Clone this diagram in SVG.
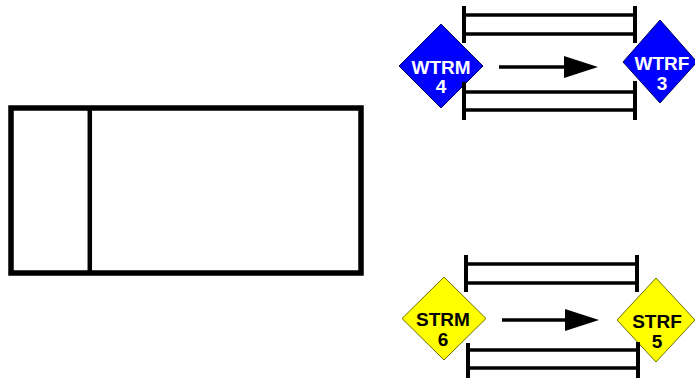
<svg xmlns="http://www.w3.org/2000/svg" width="695" height="381" viewBox="0 0 695 381">
<style>
.box{fill:none;stroke:#000;stroke-width:5.5}
.bar{fill:none;stroke:#000;stroke-width:4;stroke-linecap:butt}
.rail{fill:none;stroke:#000;stroke-width:3.5}
.blue{fill:#0000ff;stroke:#000060;stroke-width:1}
.yel{fill:#ffff00;stroke:#6b6b00;stroke-width:1}
.lbl{font-family:"Liberation Sans",Arial,sans-serif;font-weight:bold;font-size:19px;text-anchor:middle}
.w{fill:#fff}
.k{fill:#000}
.conn{stroke:#000;stroke-width:3.5;fill:none}
</style>
<defs>
<marker id="ah" markerUnits="userSpaceOnUse" markerWidth="34" markerHeight="24" refX="0" refY="11" orient="auto">
<path d="M0,0 L34,11 L0,22 Z" fill="#000"/>
</marker>
</defs>
<rect width="695" height="381" fill="#fff"/>

<g id="panel">
<rect class="box" x="11" y="108" width="350" height="165"/>
<line class="box" x1="89.8" y1="108" x2="89.8" y2="273" style="stroke-width:4.5"/>
</g>

<g id="WTRM">
<polygon class="blue" points="441,24 483,66 441,108 399,66"/>
<text class="lbl w" x="441" y="74">WTRM</text>
<text class="lbl w" x="441" y="93">4</text>
</g>
<g id="WTRF">
<polygon class="blue" points="660,20 697,62 660,103 623,62"/>
<text class="lbl w" x="662" y="70">WTRF</text>
<text class="lbl w" x="662" y="90">3</text>
</g>
<g id="STRM">
<polygon class="yel" points="444,277 486,318.5 444,360 402,318.5"/>
<text class="lbl k" x="443" y="326">STRM</text>
<text class="lbl k" x="443" y="346">6</text>
</g>
<g id="STRF">
<polygon class="yel" points="656,278 695,320 656,362 617,320"/>
<text class="lbl k" x="657" y="328">STRF</text>
<text class="lbl k" x="657" y="348">5</text>
</g>

<g id="track-top-upper">
<line class="rail" x1="464" y1="15" x2="635" y2="15"/>
<line class="rail" x1="464" y1="34" x2="635" y2="34"/>
<line class="bar" x1="464" y1="6" x2="464" y2="43"/>
<line class="bar" x1="635" y1="6" x2="635" y2="43"/>
</g>
<g id="track-top-lower">
<line class="rail" x1="464" y1="92" x2="635" y2="92"/>
<line class="rail" x1="464" y1="110" x2="635" y2="110"/>
<line class="bar" x1="464" y1="82" x2="464" y2="120"/>
<line class="bar" x1="635" y1="81" x2="635" y2="120"/>
</g>
<g id="track-bottom-upper">
<line class="rail" x1="466" y1="264" x2="637" y2="264"/>
<line class="rail" x1="466" y1="283" x2="637" y2="283"/>
<line class="bar" x1="466" y1="255" x2="466" y2="292"/>
<line class="bar" x1="637" y1="255" x2="637" y2="292"/>
</g>
<g id="track-bottom-lower">
<line class="rail" x1="468" y1="350" x2="638" y2="350"/>
<line class="rail" x1="468" y1="368" x2="638" y2="368"/>
<line class="bar" x1="468" y1="343" x2="468" y2="378"/>
<line class="bar" x1="638" y1="342" x2="638" y2="378"/>
</g>

<g id="connectors">
<line class="conn" x1="499" y1="67" x2="564" y2="67" marker-end="url(#ah)"/>
<line class="conn" x1="502" y1="320" x2="565" y2="320" marker-end="url(#ah)"/>
</g>
</svg>
